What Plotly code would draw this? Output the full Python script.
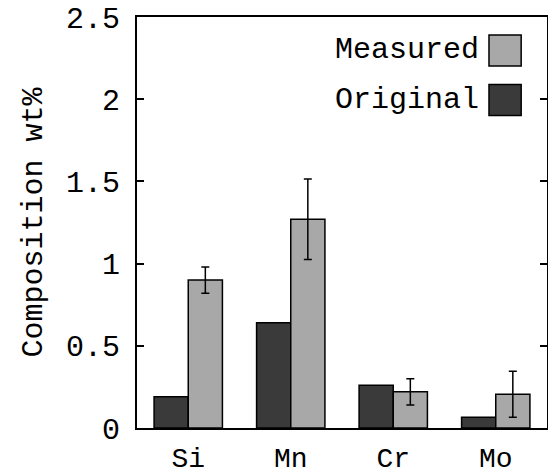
import plotly.graph_objects as go

# Alloying elements and their compositions (wt%)
elements = ["Si", "Mn", "Cr", "Mo"]
original = [0.19, 0.64, 0.26, 0.065]
measured = [0.90, 1.27, 0.22, 0.205]
measured_err = [0.08, 0.245, 0.08, 0.14]

y_ticks = [0, 0.5, 1, 1.5, 2, 2.5]
y_tick_text = ["0", "0.5", "1", "1.5", "2", "2.5"]

DARK = "#3a3a3a"
LIGHT = "#a8a8a8"
FONT = "Liberation Mono"

fig = go.Figure()
fig.add_trace(go.Bar(
    x=elements, y=original, name="Original",
    marker=dict(color=DARK, line=dict(color="black", width=1.5)),
    showlegend=False,
))
fig.add_trace(go.Bar(
    x=elements, y=measured, name="Measured",
    marker=dict(color=LIGHT, line=dict(color="black", width=1.5)),
    error_y=dict(type="data", array=measured_err, color="black",
                 thickness=1.5, width=4),
    showlegend=False,
))

# Legend drawn as text with swatches on the right-hand side
legend_items = [("Measured", LIGHT, 0.9185), ("Original", DARK, 0.798)]
for label, color, yc in legend_items:
    fig.add_annotation(
        xref="paper", yref="paper", x=0.84, y=yc, xanchor="right",
        yanchor="middle", text=label, showarrow=False,
        font=dict(family=FONT, size=30, color="black"),
    )
    fig.add_shape(
        type="rect", xref="paper", yref="paper",
        x0=0.8585, x1=0.937, y0=yc - 0.0377, y1=yc + 0.0377,
        fillcolor=color, line=dict(color="black", width=1.5),
    )

fig.update_layout(
    width=548, height=475,
    margin=dict(l=137, r=1, t=17, b=47),
    paper_bgcolor="white", plot_bgcolor="white",
    barmode="group", bargap=1/3, bargroupgap=0,
    font=dict(family=FONT, size=30, color="black"),
    xaxis=dict(
        showline=True, linecolor="black", linewidth=2, mirror=True,
        ticks="", showgrid=False, ticklabelstandoff=3,
        tickfont=dict(size=28), automargin=False,
    ),
    yaxis=dict(
        range=[0, 2.5], tickvals=y_ticks, ticktext=y_tick_text,
        showline=True, linecolor="black", linewidth=2, mirror="ticks",
        ticks="inside", ticklen=7, tickwidth=1.5, tickcolor="black",
        showgrid=False, zeroline=False, ticklabelstandoff=9,
        tickfont=dict(size=30), automargin=False,
        title=dict(text="Composition wt%", font=dict(size=30), standoff=14),
    ),
)

fig.write_html("out.html")
